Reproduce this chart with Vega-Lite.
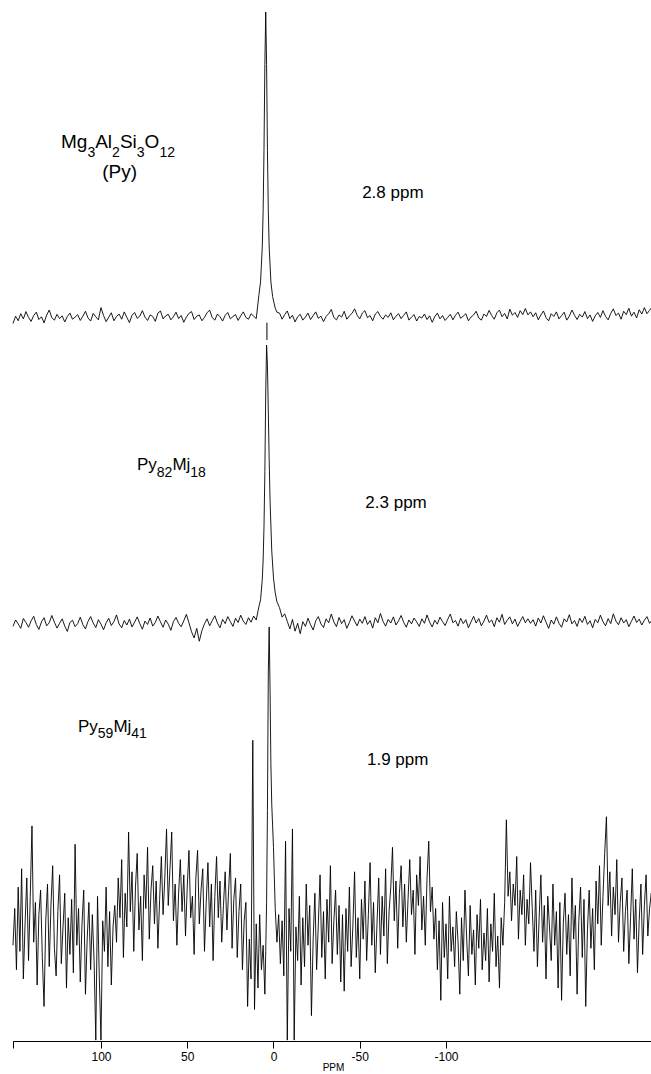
{
"$schema": "https://vega.github.io/schema/vega-lite/v6.json",
"background": "white",
"padding": {"left": 11, "top": 0, "right": 0, "bottom": 0},
"spacing": 0,
"bounds": "flush",
"config": {"view": {"stroke": null}, "concat": {"spacing": 0}},
"datasets": {
"top": [
{"p":151,"v":-1.8},{"p":149.5,"v":0.6},{"p":148,"v":-0.9},{"p":146.5,"v":1.4},{"p":145,"v":-0.3},{"p":143.5,"v":2.1},{"p":142,"v":0.2},{"p":140.5,"v":-1.1},{"p":139,"v":0.8},{"p":137.5,"v":1.9},
{"p":136,"v":-0.5},{"p":134.5,"v":0.4},{"p":133,"v":-1.6},{"p":131.5,"v":0.9},{"p":130,"v":2.6},{"p":128.5,"v":0.1},{"p":127,"v":-0.7},{"p":125.5,"v":1.2},{"p":124,"v":-0.2},{"p":122.5,"v":0.7},
{"p":121,"v":-1.3},{"p":119.5,"v":0.5},{"p":118,"v":1.6},{"p":116.5,"v":-0.4},{"p":115,"v":0.3},{"p":113.5,"v":1.1},{"p":112,"v":-0.8},{"p":110.5,"v":0.6},{"p":109,"v":2.2},{"p":107.5,"v":0.0},
{"p":106,"v":-1.0},{"p":104.5,"v":1.5},{"p":103,"v":0.4},{"p":101.5,"v":-0.6},{"p":100,"v":3.4},{"p":98.5,"v":0.8},{"p":97,"v":-1.2},{"p":95.5,"v":0.3},{"p":94,"v":1.7},{"p":92.5,"v":-0.9},
{"p":91,"v":0.5},{"p":89.5,"v":1.3},{"p":88,"v":-0.4},{"p":86.5,"v":2.0},{"p":85,"v":0.2},{"p":83.5,"v":-1.5},{"p":82,"v":0.9},{"p":80.5,"v":1.8},{"p":79,"v":-0.1},{"p":77.5,"v":0.6},
{"p":76,"v":2.4},{"p":74.5,"v":0.3},{"p":73,"v":-0.8},{"p":71.5,"v":1.0},{"p":70,"v":0.5},{"p":68.5,"v":-1.1},{"p":67,"v":1.6},{"p":65.5,"v":2.3},{"p":64,"v":-0.3},{"p":62.5,"v":0.7},
{"p":61,"v":1.2},{"p":59.5,"v":-0.6},{"p":58,"v":0.4},{"p":56.5,"v":1.9},{"p":55,"v":-0.2},{"p":53.5,"v":0.8},{"p":52,"v":-1.4},{"p":50.5,"v":0.3},{"p":49,"v":1.5},{"p":47.5,"v":2.1},
{"p":46,"v":-0.5},{"p":44.5,"v":0.6},{"p":43,"v":1.0},{"p":41.5,"v":-0.9},{"p":40,"v":0.2},{"p":38.5,"v":1.7},{"p":37,"v":2.6},{"p":35.5,"v":0.1},{"p":34,"v":-0.7},{"p":32.5,"v":1.3},
{"p":31,"v":0.4},{"p":29.5,"v":-1.0},{"p":28,"v":0.9},{"p":26.5,"v":1.8},{"p":25,"v":-0.3},{"p":23.5,"v":0.5},{"p":22,"v":1.1},{"p":20.5,"v":-0.8},{"p":19,"v":0.7},{"p":17.5,"v":2.0},
{"p":16,"v":0.2},{"p":14.5,"v":-0.4},{"p":13,"v":1.4},{"p":11.5,"v":0.6},{"p":10,"v":-0.2},
{"p":8.5,"v":7.3},{"p":7.5,"v":11.8},{"p":6.5,"v":23.2},{"p":6,"v":35.0},{"p":5.5,"v":54.8},{"p":5,"v":82.9},{"p":4.5,"v":100},{"p":4,"v":82.9},{"p":3.5,"v":54.8},{"p":3,"v":35.0},{"p":2.5,"v":23.2},{"p":1.5,"v":11.8},{"p":0.5,"v":7.0},{"p":-1,"v":3.2},{"p":-2,"v":1.9},
{"p":-3.5,"v":1.6},{"p":-5,"v":-0.4},{"p":-6.5,"v":1.1},{"p":-8,"v":2.3},{"p":-9.5,"v":-0.2},{"p":-11,"v":0.9},{"p":-12.5,"v":-1.3},{"p":-14,"v":0.4},{"p":-15.5,"v":1.2},{"p":-17,"v":-0.7},
{"p":-18.5,"v":0.3},{"p":-20,"v":1.6},{"p":-21.5,"v":-0.5},{"p":-23,"v":0.8},{"p":-24.5,"v":2.0},{"p":-26,"v":-0.1},{"p":-27.5,"v":0.6},{"p":-29,"v":-1.2},{"p":-30.5,"v":0.5},{"p":-32,"v":1.4},
{"p":-33.5,"v":2.8},{"p":-35,"v":0.2},{"p":-36.5,"v":-0.6},{"p":-38,"v":1.0},{"p":-39.5,"v":0.3},{"p":-41,"v":2.2},{"p":-42.5,"v":-0.4},{"p":-44,"v":0.7},{"p":-45.5,"v":1.5},{"p":-47,"v":3.0},
{"p":-48.5,"v":0.9},{"p":-50,"v":-0.3},{"p":-51.5,"v":1.6},{"p":-53,"v":2.4},{"p":-54.5,"v":0.1},{"p":-56,"v":0.8},{"p":-57.5,"v":-0.9},{"p":-59,"v":1.3},{"p":-60.5,"v":2.1},{"p":-62,"v":0.5},
{"p":-63.5,"v":-0.4},{"p":-65,"v":1.0},{"p":-66.5,"v":0.2},{"p":-68,"v":1.7},{"p":-69.5,"v":-0.6},{"p":-71,"v":0.6},{"p":-72.5,"v":1.4},{"p":-74,"v":-0.2},{"p":-75.5,"v":0.9},{"p":-77,"v":2.0},
{"p":-78.5,"v":-0.7},{"p":-80,"v":0.3},{"p":-81.5,"v":1.1},{"p":-83,"v":-1.0},{"p":-84.5,"v":0.5},{"p":-86,"v":0.0},{"p":-87.5,"v":1.3},{"p":-89,"v":-0.5},{"p":-90.5,"v":0.7},{"p":-92,"v":-1.4},
{"p":-93.5,"v":0.4},{"p":-95,"v":1.6},{"p":-96.5,"v":-0.3},{"p":-98,"v":0.8},{"p":-99.5,"v":-0.8},{"p":-101,"v":0.2},{"p":-102.5,"v":1.2},{"p":-104,"v":-0.6},{"p":-105.5,"v":0.9},{"p":-107,"v":1.9},
{"p":-108.5,"v":-0.1},{"p":-110,"v":0.6},{"p":-111.5,"v":1.4},{"p":-113,"v":-0.9},{"p":-114.5,"v":0.3},{"p":-116,"v":1.0},{"p":-117.5,"v":2.2},{"p":-119,"v":0.0},{"p":-120.5,"v":-0.7},{"p":-122,"v":1.3},
{"p":-123.5,"v":0.5},{"p":-125,"v":2.5},{"p":-126.5,"v":0.8},{"p":-128,"v":-0.4},{"p":-129.5,"v":1.7},{"p":-131,"v":2.6},{"p":-132.5,"v":0.4},{"p":-134,"v":1.5},{"p":-135.5,"v":-0.3},{"p":-137,"v":2.9},
{"p":-138.5,"v":0.9},{"p":-140,"v":1.8},{"p":-141.5,"v":0.2},{"p":-143,"v":2.4},{"p":-144.5,"v":1.1},{"p":-146,"v":3.1},{"p":-147.5,"v":1.0},{"p":-149,"v":2.0},
{"p":-150.5,"v":0.4},{"p":-152,"v":1.7},{"p":-153.5,"v":-0.6},{"p":-155,"v":1.0},{"p":-156.5,"v":2.3},{"p":-158,"v":0.1},{"p":-159.5,"v":-0.9},{"p":-161,"v":1.4},{"p":-162.5,"v":0.5},{"p":-164,"v":2.0},
{"p":-165.5,"v":-0.3},{"p":-167,"v":0.8},{"p":-168.5,"v":1.9},{"p":-170,"v":-0.7},{"p":-171.5,"v":0.6},{"p":-173,"v":2.6},{"p":-174.5,"v":0.9},{"p":-176,"v":-0.5},{"p":-177.5,"v":1.2},{"p":-179,"v":0.3},
{"p":-180.5,"v":2.1},{"p":-182,"v":-0.2},{"p":-183.5,"v":1.0},{"p":-185,"v":-1.1},{"p":-186.5,"v":0.7},{"p":-188,"v":1.8},{"p":-189.5,"v":0.2},{"p":-191,"v":2.4},{"p":-192.5,"v":0.5},{"p":-194,"v":-0.6},
{"p":-195.5,"v":1.5},{"p":-197,"v":3.0},{"p":-198.5,"v":0.8},{"p":-200,"v":1.6},{"p":-201.5,"v":-0.4},{"p":-203,"v":2.2},{"p":-204.5,"v":1.1},{"p":-206,"v":3.2},{"p":-207.5,"v":0.6},{"p":-209,"v":1.9},
{"p":-210.5,"v":0.0},{"p":-212,"v":2.7},{"p":-213.5,"v":1.3},{"p":-215,"v":3.4},{"p":-216.5,"v":1.4},{"p":-218,"v":2.5},{"p":-219.5,"v":3.6}
],
"mid": [
{"p":151,"v":-0.5},{"p":149.5,"v":1.8},{"p":148,"v":0.4},{"p":146.5,"v":-1.2},{"p":145,"v":2.3},{"p":143.5,"v":0.9},{"p":142,"v":-0.8},{"p":140.5,"v":1.5},{"p":139,"v":3.1},{"p":137.5,"v":0.2},
{"p":136,"v":-1.6},{"p":134.5,"v":1.1},{"p":133,"v":2.6},{"p":131.5,"v":-0.3},{"p":130,"v":0.8},{"p":128.5,"v":3.4},{"p":127,"v":1.0},{"p":125.5,"v":-1.1},{"p":124,"v":0.6},{"p":122.5,"v":2.2},
{"p":121,"v":-0.4},{"p":119.5,"v":-2.3},{"p":118,"v":0.9},{"p":116.5,"v":1.7},{"p":115,"v":-0.6},{"p":113.5,"v":0.5},{"p":112,"v":2.8},{"p":110.5,"v":0.1},{"p":109,"v":-1.4},{"p":107.5,"v":1.3},
{"p":106,"v":3.0},{"p":104.5,"v":0.7},{"p":103,"v":-0.9},{"p":101.5,"v":1.9},{"p":100,"v":0.3},{"p":98.5,"v":-1.7},{"p":97,"v":0.8},{"p":95.5,"v":2.4},{"p":94,"v":-0.2},{"p":92.5,"v":1.2},
{"p":91,"v":3.6},{"p":89.5,"v":0.4},{"p":88,"v":-1.0},{"p":86.5,"v":1.6},{"p":85,"v":0.0},{"p":83.5,"v":2.1},{"p":82,"v":-0.7},{"p":80.5,"v":1.0},{"p":79,"v":2.9},{"p":77.5,"v":0.5},
{"p":76,"v":-1.5},{"p":74.5,"v":1.4},{"p":73,"v":0.2},{"p":71.5,"v":2.5},{"p":70,"v":-0.4},{"p":68.5,"v":0.9},{"p":67,"v":3.2},{"p":65.5,"v":1.1},{"p":64,"v":-0.8},{"p":62.5,"v":1.8},
{"p":61,"v":0.3},{"p":59.5,"v":-1.9},{"p":58,"v":1.2},{"p":56.5,"v":2.7},{"p":55,"v":0.6},{"p":53.5,"v":-0.6},{"p":52,"v":1.5},{"p":50.5,"v":3.8},{"p":49,"v":0.8},{"p":47.5,"v":-2.4},
{"p":46,"v":-4.6},{"p":44.5,"v":-1.2},{"p":43,"v":-5.8},{"p":41.5,"v":-2.0},{"p":40,"v":0.4},{"p":38.5,"v":2.2},{"p":37,"v":-0.3},{"p":35.5,"v":1.6},{"p":34,"v":3.3},{"p":32.5,"v":0.7},
{"p":31,"v":-1.0},{"p":29.5,"v":2.0},{"p":28,"v":0.5},{"p":26.5,"v":3.0},{"p":25,"v":1.2},{"p":23.5,"v":-0.5},{"p":22,"v":2.4},{"p":20.5,"v":0.9},{"p":19,"v":3.5},{"p":17.5,"v":1.4},
{"p":16,"v":0.2},{"p":14.5,"v":2.6},{"p":13,"v":1.0},{"p":11.5,"v":3.2},{"p":10,"v":1.8},
{"p":8.5,"v":6.4},{"p":7.5,"v":9.0},{"p":6.5,"v":16.2},{"p":6,"v":23.2},{"p":5.5,"v":35.0},{"p":5,"v":54.8},{"p":4.5,"v":82.9},{"p":4,"v":100},{"p":3.5,"v":92.8},{"p":3,"v":76.4},{"p":2.5,"v":59.0},{"p":2,"v":44.7},{"p":1,"v":26.5},{"p":0,"v":16.8},{"p":-1,"v":11.5},{"p":-2,"v":8.3},{"p":-3.5,"v":6.2},{"p":-5,"v":2.8},{"p":-6.5,"v":4.0},{"p":-8,"v":1.3},
{"p":-9.5,"v":-1.4},{"p":-11,"v":2.0},{"p":-12.5,"v":-2.2},{"p":-14,"v":0.6},{"p":-15.5,"v":-3.1},{"p":-17,"v":1.2},{"p":-18.5,"v":-0.5},{"p":-20,"v":2.4},{"p":-21.5,"v":0.1},{"p":-23,"v":-1.8},
{"p":-24.5,"v":1.5},{"p":-26,"v":3.0},{"p":-27.5,"v":0.4},{"p":-29,"v":-0.9},{"p":-30.5,"v":2.2},{"p":-32,"v":0.8},{"p":-33.5,"v":3.9},{"p":-35,"v":1.1},{"p":-36.5,"v":-0.6},{"p":-38,"v":2.7},
{"p":-39.5,"v":0.5},{"p":-41,"v":1.9},{"p":-42.5,"v":-1.2},{"p":-44,"v":0.9},{"p":-45.5,"v":3.3},{"p":-47,"v":1.4},{"p":-48.5,"v":-0.3},{"p":-50,"v":2.1},{"p":-51.5,"v":0.6},{"p":-53,"v":3.0},
{"p":-54.5,"v":0.2},{"p":-56,"v":1.6},{"p":-57.5,"v":-1.1},{"p":-59,"v":2.6},{"p":-60.5,"v":0.8},{"p":-62,"v":4.1},{"p":-63.5,"v":1.3},{"p":-65,"v":-0.4},{"p":-66.5,"v":2.0},{"p":-68,"v":0.7},
{"p":-69.5,"v":2.9},{"p":-71,"v":0.0},{"p":-72.5,"v":1.5},{"p":-74,"v":3.4},{"p":-75.5,"v":0.9},{"p":-77,"v":-0.8},{"p":-78.5,"v":1.8},{"p":-80,"v":0.4},{"p":-81.5,"v":2.5},{"p":-83,"v":1.1},
{"p":-84.5,"v":-0.5},{"p":-86,"v":2.2},{"p":-87.5,"v":0.6},{"p":-89,"v":3.6},{"p":-90.5,"v":1.0},{"p":-92,"v":-0.7},{"p":-93.5,"v":1.7},{"p":-95,"v":0.3},{"p":-96.5,"v":2.8},{"p":-98,"v":1.2},
{"p":-99.5,"v":-0.2},{"p":-101,"v":2.0},{"p":-102.5,"v":3.9},{"p":-104,"v":0.8},{"p":-105.5,"v":1.6},{"p":-107,"v":-0.4},{"p":-108.5,"v":2.4},{"p":-110,"v":0.5},{"p":-111.5,"v":1.9},{"p":-113,"v":-1.0},
{"p":-114.5,"v":1.1},{"p":-116,"v":3.1},{"p":-117.5,"v":0.7},{"p":-119,"v":2.3},{"p":-120.5,"v":-0.3},{"p":-122,"v":1.4},{"p":-123.5,"v":3.5},{"p":-125,"v":0.9},{"p":-126.5,"v":1.8},{"p":-128,"v":-0.6},
{"p":-129.5,"v":2.6},{"p":-131,"v":1.0},{"p":-132.5,"v":3.8},{"p":-134,"v":0.2},{"p":-135.5,"v":1.7},{"p":-137,"v":2.9},{"p":-138.5,"v":0.4},{"p":-140,"v":2.1},{"p":-141.5,"v":-0.5},{"p":-143,"v":1.3},
{"p":-144.5,"v":3.0},{"p":-146,"v":0.8},{"p":-147.5,"v":2.2},{"p":-149,"v":0.6},
{"p":-150.5,"v":1.9},{"p":-152,"v":-0.4},{"p":-153.5,"v":2.5},{"p":-155,"v":0.7},{"p":-156.5,"v":3.3},{"p":-158,"v":1.0},{"p":-159.5,"v":-1.2},{"p":-161,"v":1.8},{"p":-162.5,"v":0.3},{"p":-164,"v":2.9},
{"p":-165.5,"v":0.6},{"p":-167,"v":-0.8},{"p":-168.5,"v":2.2},{"p":-170,"v":1.1},{"p":-171.5,"v":3.7},{"p":-173,"v":0.4},{"p":-174.5,"v":1.6},{"p":-176,"v":-0.5},{"p":-177.5,"v":2.4},{"p":-179,"v":0.9},
{"p":-180.5,"v":3.1},{"p":-182,"v":0.2},{"p":-183.5,"v":1.5},{"p":-185,"v":-1.0},{"p":-186.5,"v":2.0},{"p":-188,"v":0.8},{"p":-189.5,"v":3.5},{"p":-191,"v":1.2},{"p":-192.5,"v":-0.3},{"p":-194,"v":2.3},
{"p":-195.5,"v":0.5},{"p":-197,"v":4.0},{"p":-198.5,"v":1.4},{"p":-200,"v":0.1},{"p":-201.5,"v":2.6},{"p":-203,"v":0.7},{"p":-204.5,"v":1.9},{"p":-206,"v":-0.6},{"p":-207.5,"v":1.3},{"p":-209,"v":3.2},
{"p":-210.5,"v":0.9},{"p":-212,"v":2.1},{"p":-213.5,"v":0.0},{"p":-215,"v":1.7},{"p":-216.5,"v":3.0},{"p":-218,"v":0.6},{"p":-219.5,"v":1.8}
],
"bot": [
{"p":151,"v":-4},{"p":150,"v":8},{"p":149,"v":-12},{"p":148,"v":15},{"p":147,"v":-6},{"p":146,"v":21},{"p":145,"v":-15},{"p":144,"v":3},{"p":143,"v":18},{"p":142,"v":-9},
{"p":141,"v":12},{"p":140,"v":35},{"p":139,"v":-3},{"p":138,"v":10},{"p":137,"v":-17},{"p":136,"v":6},{"p":135,"v":14},{"p":134,"v":-8},{"p":133,"v":-24},{"p":132,"v":4},
{"p":131,"v":16},{"p":130,"v":-11},{"p":129,"v":9},{"p":128,"v":22},{"p":127,"v":-5},{"p":126,"v":-14},{"p":125,"v":7},{"p":124,"v":19},{"p":123,"v":-10},{"p":122,"v":2},
{"p":121,"v":13},{"p":120,"v":-18},{"p":119,"v":5},{"p":118,"v":-7},{"p":117,"v":11},{"p":116,"v":-13},{"p":115,"v":29},{"p":114,"v":-4},{"p":113,"v":8},{"p":112,"v":-16},
{"p":111,"v":3},{"p":110,"v":14},{"p":109,"v":-20},{"p":108,"v":-2},{"p":107,"v":10},{"p":106,"v":-12},{"p":105,"v":6},{"p":104,"v":-9},{"p":103,"v":-35},{"p":102,"v":12},
{"p":101,"v":-14},{"p":100,"v":-35},{"p":99,"v":4},{"p":98,"v":-6},{"p":97,"v":15},{"p":96,"v":-11},{"p":95,"v":7},{"p":94,"v":-17},{"p":93,"v":2},{"p":92,"v":9},
{"p":91,"v":-3},{"p":90,"v":18},{"p":89,"v":5},{"p":88,"v":24},{"p":87,"v":-8},{"p":86,"v":13},{"p":85,"v":2},{"p":84,"v":33},{"p":83,"v":7},{"p":82,"v":20},
{"p":81,"v":-6},{"p":80,"v":15},{"p":79,"v":26},{"p":78,"v":1},{"p":77,"v":12},{"p":76,"v":-9},{"p":75,"v":19},{"p":74,"v":8},{"p":73,"v":28},{"p":72,"v":-2},
{"p":71,"v":14},{"p":70,"v":22},{"p":69,"v":3},{"p":68,"v":17},{"p":67,"v":-5},{"p":66,"v":11},{"p":65,"v":25},{"p":64,"v":6},{"p":63,"v":18},{"p":62,"v":34},
{"p":61,"v":9},{"p":60,"v":21},{"p":59,"v":33},{"p":58,"v":4},{"p":57,"v":16},{"p":56,"v":-4},{"p":55,"v":13},{"p":54,"v":24},{"p":53,"v":7},{"p":52,"v":19},
{"p":51,"v":-1},{"p":50,"v":15},{"p":49,"v":27},{"p":48,"v":5},{"p":47,"v":12},{"p":46,"v":-7},{"p":45,"v":18},{"p":44,"v":27},{"p":43,"v":3},{"p":42,"v":14},
{"p":41,"v":21},{"p":40,"v":-6},{"p":39,"v":10},{"p":38,"v":23},{"p":37,"v":2},{"p":36,"v":16},{"p":35,"v":-9},{"p":34,"v":12},{"p":33,"v":25},{"p":32,"v":5},
{"p":31,"v":17},{"p":30,"v":-3},{"p":29,"v":9},{"p":28,"v":20},{"p":27,"v":1},{"p":26,"v":14},{"p":25,"v":26},{"p":24,"v":-5},{"p":23,"v":11},{"p":22,"v":18},
{"p":21,"v":-8},{"p":20,"v":7},{"p":19,"v":16},{"p":18,"v":-12},{"p":17,"v":4},{"p":16,"v":10},{"p":15,"v":-24},{"p":14,"v":-2},{"p":13,"v":-15},{"p":12,"v":63},
{"p":11,"v":-25},{"p":10,"v":3},{"p":9,"v":-18},{"p":8,"v":6},{"p":7,"v":-12},{"p":6,"v":-4},{"p":5,"v":-20},{"p":4.5,"v":-6},{"p":4,"v":10},{"p":3.5,"v":40},
{"p":3,"v":85},{"p":2.5,"v":100},{"p":2,"v":80},{"p":1.5,"v":55},{"p":1,"v":42},{"p":0.5,"v":35},{"p":0,"v":28},{"p":-0.5,"v":18},{"p":-1,"v":8},{"p":-2,"v":-3},
{"p":-3,"v":6},{"p":-4,"v":-10},{"p":-5,"v":4},{"p":-6,"v":-14},{"p":-7,"v":30},{"p":-8,"v":-35},{"p":-9,"v":8},{"p":-10,"v":-6},{"p":-11,"v":34},{"p":-12,"v":-35},
{"p":-13,"v":2},{"p":-14,"v":-9},{"p":-15,"v":12},{"p":-16,"v":-17},{"p":-17,"v":5},{"p":-18,"v":-11},{"p":-19,"v":16},{"p":-20,"v":-4},{"p":-21,"v":9},{"p":-22,"v":-27},
{"p":-23,"v":-2},{"p":-24,"v":13},{"p":-25,"v":-12},{"p":-26,"v":3},{"p":-27,"v":19},{"p":-28,"v":-8},{"p":-29,"v":7},{"p":-30,"v":-15},{"p":-31,"v":11},{"p":-32,"v":-3},
{"p":-33,"v":22},{"p":-34,"v":-10},{"p":-35,"v":4},{"p":-36,"v":14},{"p":-37,"v":-7},{"p":-38,"v":9},{"p":-39,"v":-16},{"p":-40,"v":6},{"p":-41,"v":-19},{"p":-42,"v":8},
{"p":-43,"v":-6},{"p":-44,"v":15},{"p":-45,"v":-11},{"p":-46,"v":2},{"p":-47,"v":20},{"p":-48,"v":-8},{"p":-49,"v":5},{"p":-50,"v":-15},{"p":-51,"v":11},{"p":-52,"v":-2},
{"p":-53,"v":17},{"p":-54,"v":-9},{"p":-55,"v":6},{"p":-56,"v":23},{"p":-57,"v":-4},{"p":-58,"v":10},{"p":-59,"v":-13},{"p":-60,"v":3},{"p":-61,"v":18},{"p":-62,"v":-7},
{"p":-63,"v":12},{"p":-64,"v":-1},{"p":-65,"v":21},{"p":-66,"v":-10},{"p":-67,"v":7},{"p":-68,"v":15},{"p":-69,"v":28},{"p":-70,"v":4},{"p":-71,"v":17},{"p":-72,"v":-5},
{"p":-73,"v":13},{"p":-74,"v":22},{"p":-75,"v":2},{"p":-76,"v":16},{"p":-77,"v":-3},{"p":-78,"v":11},{"p":-79,"v":24},{"p":-80,"v":6},{"p":-81,"v":14},{"p":-82,"v":-7},
{"p":-83,"v":19},{"p":-84,"v":9},{"p":-85,"v":25},{"p":-86,"v":1},{"p":-87,"v":12},{"p":-88,"v":-4},{"p":-89,"v":18},{"p":-90,"v":30},{"p":-91,"v":7},{"p":-92,"v":15},
{"p":-93,"v":-2},{"p":-94,"v":8},{"p":-95,"v":-12},{"p":-96,"v":4},{"p":-97,"v":-22},{"p":-98,"v":10},{"p":-99,"v":-8},{"p":-100,"v":3},{"p":-101,"v":-15},{"p":-102,"v":12},
{"p":-103,"v":-6},{"p":-104,"v":2},{"p":-105,"v":-11},{"p":-106,"v":7},{"p":-107,"v":-3},{"p":-108,"v":-20},{"p":-109,"v":5},{"p":-110,"v":-9},{"p":-111,"v":14},{"p":-112,"v":-2},
{"p":-113,"v":-14},{"p":-114,"v":9},{"p":-115,"v":-7},{"p":-116,"v":1},{"p":-117,"v":-17},{"p":-118,"v":6},{"p":-119,"v":-5},{"p":-120,"v":11},{"p":-121,"v":-12},{"p":-122,"v":0},
{"p":-123,"v":-9},{"p":-124,"v":8},{"p":-125,"v":-16},{"p":-126,"v":3},{"p":-127,"v":-6},{"p":-128,"v":13},{"p":-129,"v":-11},{"p":-130,"v":-1},{"p":-131,"v":-18},{"p":-132,"v":5},
{"p":-133,"v":-4},{"p":-134,"v":10},{"p":-135,"v":37},{"p":-136,"v":12},{"p":-137,"v":20},{"p":-138,"v":4},{"p":-139,"v":16},{"p":-140,"v":9},{"p":-141,"v":25},{"p":-142,"v":-2},
{"p":-143,"v":14},{"p":-144,"v":6},{"p":-145,"v":19},{"p":-146,"v":-4},{"p":-147,"v":11},{"p":-148,"v":3},{"p":-149,"v":23},{"p":-150,"v":8},
{"p":-151,"v":-6},{"p":-152,"v":14},{"p":-153,"v":-11},{"p":-154,"v":5},{"p":-155,"v":19},{"p":-156,"v":-3},{"p":-157,"v":9},{"p":-158,"v":-15},{"p":-159,"v":12},{"p":-160,"v":2},
{"p":-161,"v":-9},{"p":-162,"v":16},{"p":-163,"v":-4},{"p":-164,"v":7},{"p":-165,"v":-18},{"p":-166,"v":10},{"p":-167,"v":-22},{"p":-168,"v":3},{"p":-169,"v":13},{"p":-170,"v":-7},
{"p":-171,"v":6},{"p":-172,"v":-14},{"p":-173,"v":18},{"p":-174,"v":-2},{"p":-175,"v":9},{"p":-176,"v":-20},{"p":-177,"v":4},{"p":-178,"v":15},{"p":-179,"v":-8},{"p":-180,"v":11},
{"p":-181,"v":-24},{"p":-182,"v":1},{"p":-183,"v":14},{"p":-184,"v":-5},{"p":-185,"v":8},{"p":-186,"v":-12},{"p":-187,"v":17},{"p":-188,"v":3},{"p":-189,"v":22},{"p":-190,"v":-4},
{"p":-191,"v":12},{"p":-192,"v":26},{"p":-193,"v":38},{"p":-194,"v":9},{"p":-195,"v":20},{"p":-196,"v":-1},{"p":-197,"v":15},{"p":-198,"v":6},{"p":-199,"v":24},{"p":-200,"v":-3},
{"p":-201,"v":10},{"p":-202,"v":18},{"p":-203,"v":-6},{"p":-204,"v":7},{"p":-205,"v":14},{"p":-206,"v":-10},{"p":-207,"v":5},{"p":-208,"v":21},{"p":-209,"v":-2},{"p":-210,"v":11},
{"p":-211,"v":-13},{"p":-212,"v":4},{"p":-213,"v":16},{"p":-214,"v":-7},{"p":-215,"v":9},{"p":-216,"v":19},{"p":-217,"v":-1},{"p":-218,"v":8},{"p":-219,"v":13},{"p":-220,"v":2}
],
"labels": [
{"panel":"top","role":"main","p":123.17,"v":55.56,"t":"Mg"},
{"panel":"top","role":"sub","p":107.88,"v":52.61,"t":"3"},
{"panel":"top","role":"main","p":103.36,"v":55.56,"t":"Al"},
{"panel":"top","role":"sub","p":93.57,"v":52.61,"t":"2"},
{"panel":"top","role":"main","p":89.04,"v":55.56,"t":"Si"},
{"panel":"top","role":"sub","p":79.25,"v":52.61,"t":"3"},
{"panel":"top","role":"main","p":74.72,"v":55.56,"t":"O"},
{"panel":"top","role":"sub","p":66.14,"v":52.61,"t":"12"},
{"panel":"top","role":"center","p":89.2,"v":45.75,"t":"(Py)"},
{"panel":"top","role":"label","p":-51.4,"v":39.2,"t":"2.8 ppm"},
{"panel":"mid","role":"main","p":79.13,"v":55.36,"t":"Py"},
{"panel":"mid","role":"sub","p":67.65,"v":52.86,"t":"82"},
{"panel":"mid","role":"main","p":58.61,"v":55.36,"t":"Mj"},
{"panel":"mid","role":"sub","p":48.23,"v":52.86,"t":"18"},
{"panel":"mid","role":"label","p":-53.25,"v":41.8,"t":"2.3 ppm"},
{"panel":"bot","role":"main","p":113.33,"v":65.7,"t":"Py"},
{"panel":"bot","role":"sub","p":101.86,"v":63.7,"t":"59"},
{"panel":"bot","role":"main","p":92.81,"v":65.7,"t":"Mj"},
{"panel":"bot","role":"sub","p":82.43,"v":63.7,"t":"41"},
{"panel":"bot","role":"label","p":-54.2,"v":54.9,"t":"1.9 ppm"}
],
"tick": [{"p":3.8,"v":-1.5,"v2":-7.2}]
},
"vconcat": [
{
"width": 640, "height": 340,
"encoding": {
"x": {"field": "p", "type": "quantitative", "scale": {"domain": [-220, 151], "reverse": true, "nice": false, "zero": false}, "axis": null},
"y": {"field": "v", "type": "quantitative", "scale": {"domain": [-7.19, 103.92], "nice": false, "zero": false}, "axis": null}
},
"layer": [
{"data": {"name": "top"}, "mark": {"type": "line", "stroke": "black", "strokeWidth": 0.9}},
{"data": {"name": "tick"}, "mark": {"type": "rule", "stroke": "black", "strokeWidth": 1}, "encoding": {"y2": {"field": "v2"}}},
{"data": {"name": "labels"}, "transform": [{"filter": "datum.panel == 'top' && datum.role == 'main'"}], "mark": {"type": "text", "align": "left", "baseline": "alphabetic", "font": "Liberation Sans", "fontSize": 19, "color": "black"}, "encoding": {"text": {"field": "t"}}},
{"data": {"name": "labels"}, "transform": [{"filter": "datum.panel == 'top' && datum.role == 'sub'"}], "mark": {"type": "text", "align": "left", "baseline": "alphabetic", "font": "Liberation Sans", "fontSize": 14, "color": "black"}, "encoding": {"text": {"field": "t"}}},
{"data": {"name": "labels"}, "transform": [{"filter": "datum.panel == 'top' && datum.role == 'center'"}], "mark": {"type": "text", "align": "center", "baseline": "alphabetic", "font": "Liberation Sans", "fontSize": 19, "color": "black"}, "encoding": {"text": {"field": "t"}}},
{"data": {"name": "labels"}, "transform": [{"filter": "datum.panel == 'top' && datum.role == 'label'"}], "mark": {"type": "text", "align": "left", "baseline": "alphabetic", "font": "Liberation Sans", "fontSize": 17, "color": "black"}, "encoding": {"text": {"field": "t"}}}
]
},
{
"width": 640, "height": 287,
"encoding": {
"x": {"field": "p", "type": "quantitative", "scale": {"domain": [-220, 151], "reverse": true, "nice": false, "zero": false}, "axis": null},
"y": {"field": "v", "type": "quantitative", "scale": {"domain": [-0.714, 101.79], "nice": false, "zero": false}, "axis": null}
},
"layer": [
{"data": {"name": "mid"}, "mark": {"type": "line", "stroke": "black", "strokeWidth": 0.9}},
{"data": {"name": "labels"}, "transform": [{"filter": "datum.panel == 'mid' && datum.role == 'main'"}], "mark": {"type": "text", "align": "left", "baseline": "alphabetic", "font": "Liberation Sans", "fontSize": 17, "color": "black"}, "encoding": {"text": {"field": "t"}}},
{"data": {"name": "labels"}, "transform": [{"filter": "datum.panel == 'mid' && datum.role == 'sub'"}], "mark": {"type": "text", "align": "left", "baseline": "alphabetic", "font": "Liberation Sans", "fontSize": 14, "color": "black"}, "encoding": {"text": {"field": "t"}}},
{"data": {"name": "labels"}, "transform": [{"filter": "datum.panel == 'mid' && datum.role == 'label'"}], "mark": {"type": "text", "align": "left", "baseline": "alphabetic", "font": "Liberation Sans", "fontSize": 17, "color": "black"}, "encoding": {"text": {"field": "t"}}}
]
},
{
"width": 640, "height": 414,
"encoding": {
"x": {"field": "p", "type": "quantitative", "scale": {"domain": [-220, 151], "reverse": true, "nice": false, "zero": false},
"axis": {"values": [151, 100, 50, 0, -50, -100], "labelExpr": "datum.value == 151 ? '' : '' + datum.value", "title": "PPM", "grid": false, "domainColor": "black", "domainWidth": 1, "tickColor": "black", "tickWidth": 1, "tickSize": 7, "labelColor": "black", "labelFont": "Liberation Sans Narrow, Liberation Sans", "labelFontSize": 12, "labelPadding": 3, "labelFlush": false, "titleColor": "black", "titleFont": "Liberation Sans Narrow, Liberation Sans", "titleFontSize": 10, "titleFontWeight": "normal", "titlePadding": 0}},
"y": {"field": "v", "type": "quantitative", "scale": {"domain": [-35.29, 100], "nice": false, "zero": false}, "axis": null}
},
"layer": [
{"data": {"name": "bot"}, "mark": {"type": "line", "stroke": "black", "strokeWidth": 0.9}},
{"data": {"name": "labels"}, "transform": [{"filter": "datum.panel == 'bot' && datum.role == 'main'"}], "mark": {"type": "text", "align": "left", "baseline": "alphabetic", "font": "Liberation Sans", "fontSize": 17, "color": "black"}, "encoding": {"text": {"field": "t"}}},
{"data": {"name": "labels"}, "transform": [{"filter": "datum.panel == 'bot' && datum.role == 'sub'"}], "mark": {"type": "text", "align": "left", "baseline": "alphabetic", "font": "Liberation Sans", "fontSize": 14, "color": "black"}, "encoding": {"text": {"field": "t"}}},
{"data": {"name": "labels"}, "transform": [{"filter": "datum.panel == 'bot' && datum.role == 'label'"}], "mark": {"type": "text", "align": "left", "baseline": "alphabetic", "font": "Liberation Sans", "fontSize": 17, "color": "black"}, "encoding": {"text": {"field": "t"}}}
]
}
]
}
